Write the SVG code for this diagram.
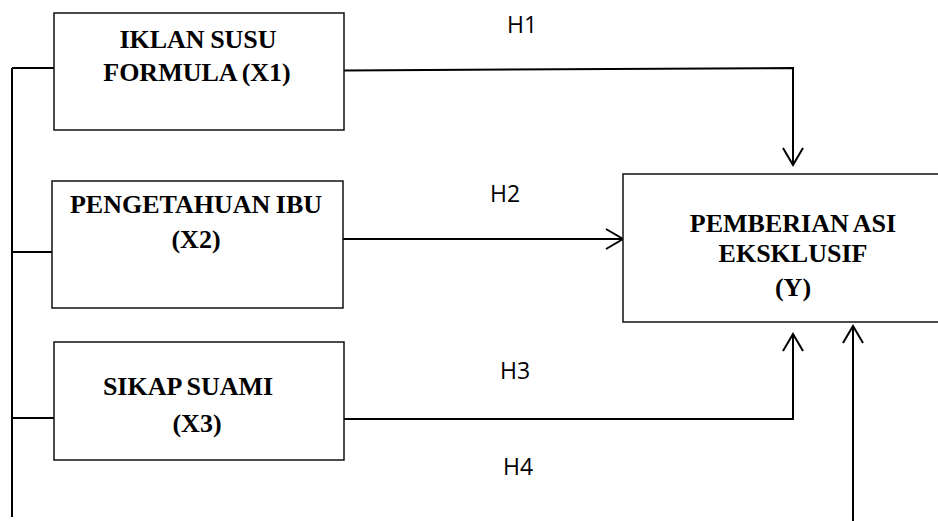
<svg xmlns="http://www.w3.org/2000/svg" width="938" height="521" viewBox="0 0 938 521">
<style>
.box{fill:#fff;stroke:#111;stroke-width:1.5}
.t{font-family:"Liberation Serif","Times New Roman",serif;font-weight:bold;font-size:26px;fill:#000;text-anchor:middle;word-spacing:-1px}
.h{font-family:"Open Sans","Liberation Sans",sans-serif;font-size:23px;fill:#000}
.c{fill:none;stroke:#000;stroke-width:2}
</style>
<defs>
<marker id="arr" markerUnits="userSpaceOnUse" markerWidth="24" markerHeight="24" viewBox="-20 -12 22 24" refX="0" refY="0" orient="auto">
<path d="M-17,-10 L0,0 L-17,10" fill="none" stroke="#000" stroke-width="2"/>
</marker>
</defs>
<rect width="938" height="521" fill="#fff"/>
<g id="connectors">
<path class="c" d="M12,68 V517"/>
<path class="c" d="M12,68 H54"/>
<path class="c" d="M12,252 H55"/>
<path class="c" d="M12,418 H54"/>
<path class="c" d="M344,70.5 L793,68 V165" marker-end="url(#arr)"/>
<path class="c" d="M343,239 H623" marker-end="url(#arr)"/>
<path class="c" d="M344,419 H793 V334" marker-end="url(#arr)"/>
<path class="c" d="M853,521 V326" marker-end="url(#arr)"/>
</g>
<g id="labels">
<text class="h" x="507" y="33">H1</text>
<text class="h" x="490" y="202">H2</text>
<text class="h" x="500" y="379">H3</text>
<text class="h" x="503" y="475">H4</text>
</g>
<g id="x1">
<rect class="box" x="54" y="13" width="290" height="117"/>
<text class="t" x="198" y="48">IKLAN SUSU</text>
<text class="t" x="197" y="81">FORMULA (X1)</text>
</g>
<g id="x2">
<rect class="box" x="52" y="181" width="291" height="127"/>
<text class="t" x="196" y="213">PENGETAHUAN IBU</text>
<text class="t" x="196" y="248">(X2)</text>
</g>
<g id="x3">
<rect class="box" x="54" y="342" width="290" height="118"/>
<text class="t" x="188" y="395">SIKAP SUAMI</text>
<text class="t" x="197" y="432">(X3)</text>
</g>
<g id="y">
<rect class="box" x="623" y="174" width="330" height="148"/>
<text class="t" x="793" y="232">PEMBERIAN ASI</text>
<text class="t" x="793" y="262">EKSKLUSIF</text>
<text class="t" x="793" y="296">(Y)</text>
</g>
</svg>
